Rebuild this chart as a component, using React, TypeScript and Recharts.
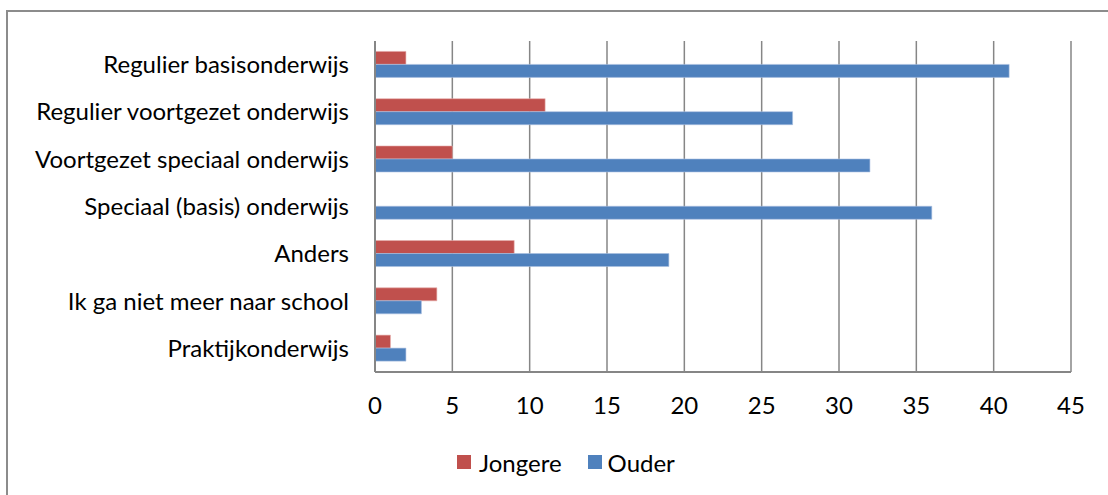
import React from 'react';
import { BarChart, Bar, XAxis, YAxis, CartesianGrid, Legend } from 'recharts';

const categories = [
  'Regulier basisonderwijs',
  'Regulier voortgezet onderwijs',
  'Voortgezet speciaal onderwijs',
  'Speciaal (basis) onderwijs',
  'Anders',
  'Ik ga niet meer naar school',
  'Praktijkonderwijs',
];
const jongere = [2, 11, 5, 0, 9, 4, 1];
const ouder = [41, 27, 32, 36, 19, 3, 2];
const xTicks = [0, 5, 10, 15, 20, 25, 30, 35, 40, 45];

const data = categories.map((name, i) => ({ name, Jongere: jongere[i], Ouder: ouder[i] }));

const FONT = 'Lato, "Open Sans", sans-serif';
const RED = '#C0504D';
const BLUE = '#4F81BD';
const GRID = '#868686';

const LegendContent = () => (
  <div style={{ display: 'flex', alignItems: 'center', fontFamily: FONT, fontSize: 24, color: '#000', paddingLeft: 457, height: 30 }}>
    <span style={{ width: 14, height: 14, background: RED, display: 'inline-block', marginRight: 8 }} />
    <span style={{ marginRight: 26 }}>Jongere</span>
    <span style={{ width: 14, height: 14, background: BLUE, display: 'inline-block', marginRight: 6 }} />
    <span>Ouder</span>
  </div>
);

export default function App() {
  return (
    <div style={{ position: 'absolute', left: 0, top: 0, width: 1108, height: 495, overflow: 'hidden', background: '#fff' }}>
      <div
        style={{
          position: 'absolute',
          left: 6,
          top: 10,
          width: 1140,
          height: 520,
          border: '2px solid #8c8c8c',
          boxSizing: 'border-box',
        }}
      />
      <div style={{ position: 'absolute', left: 0, top: 0 }}>
        <BarChart
          width={1108}
          height={495}
          data={data}
          layout="vertical"
          margin={{ top: 41, right: 37, bottom: 43, left: 0 }}
          barCategoryGap="22%"
          barGap={0}
        >
          <CartesianGrid horizontal={false} vertical={true} stroke={GRID} strokeWidth={1.5} />
          <XAxis
            type="number"
            domain={[0, 45]}
            ticks={xTicks}
            interval={0}
            axisLine={{ stroke: GRID, strokeWidth: 2 }}
            tickLine={false}
            tickSize={0}
            tickMargin={25}
            height={50}
            tick={{ fill: '#000', fontSize: 24, fontFamily: FONT }}
          />
          <YAxis
            type="category"
            dataKey="name"
            width={375}
            axisLine={{ stroke: GRID, strokeWidth: 2 }}
            tickLine={false}
            tickSize={0}
            tickMargin={26}
            interval={0}
            tick={{ fill: '#000', fontSize: 24, fontFamily: FONT }}
          />
          <Legend
            content={<LegendContent />}
            wrapperStyle={{ position: 'absolute', top: 447, left: 0, width: 1108, height: 30 }}
          />
          <Bar dataKey="Jongere" fill={RED} stroke="#e8b0ae" strokeWidth={0.6} isAnimationActive={false} />
          <Bar dataKey="Ouder" fill={BLUE} stroke="#a9c0e0" strokeWidth={0.6} isAnimationActive={false} />
        </BarChart>
      </div>
    </div>
  );
}
